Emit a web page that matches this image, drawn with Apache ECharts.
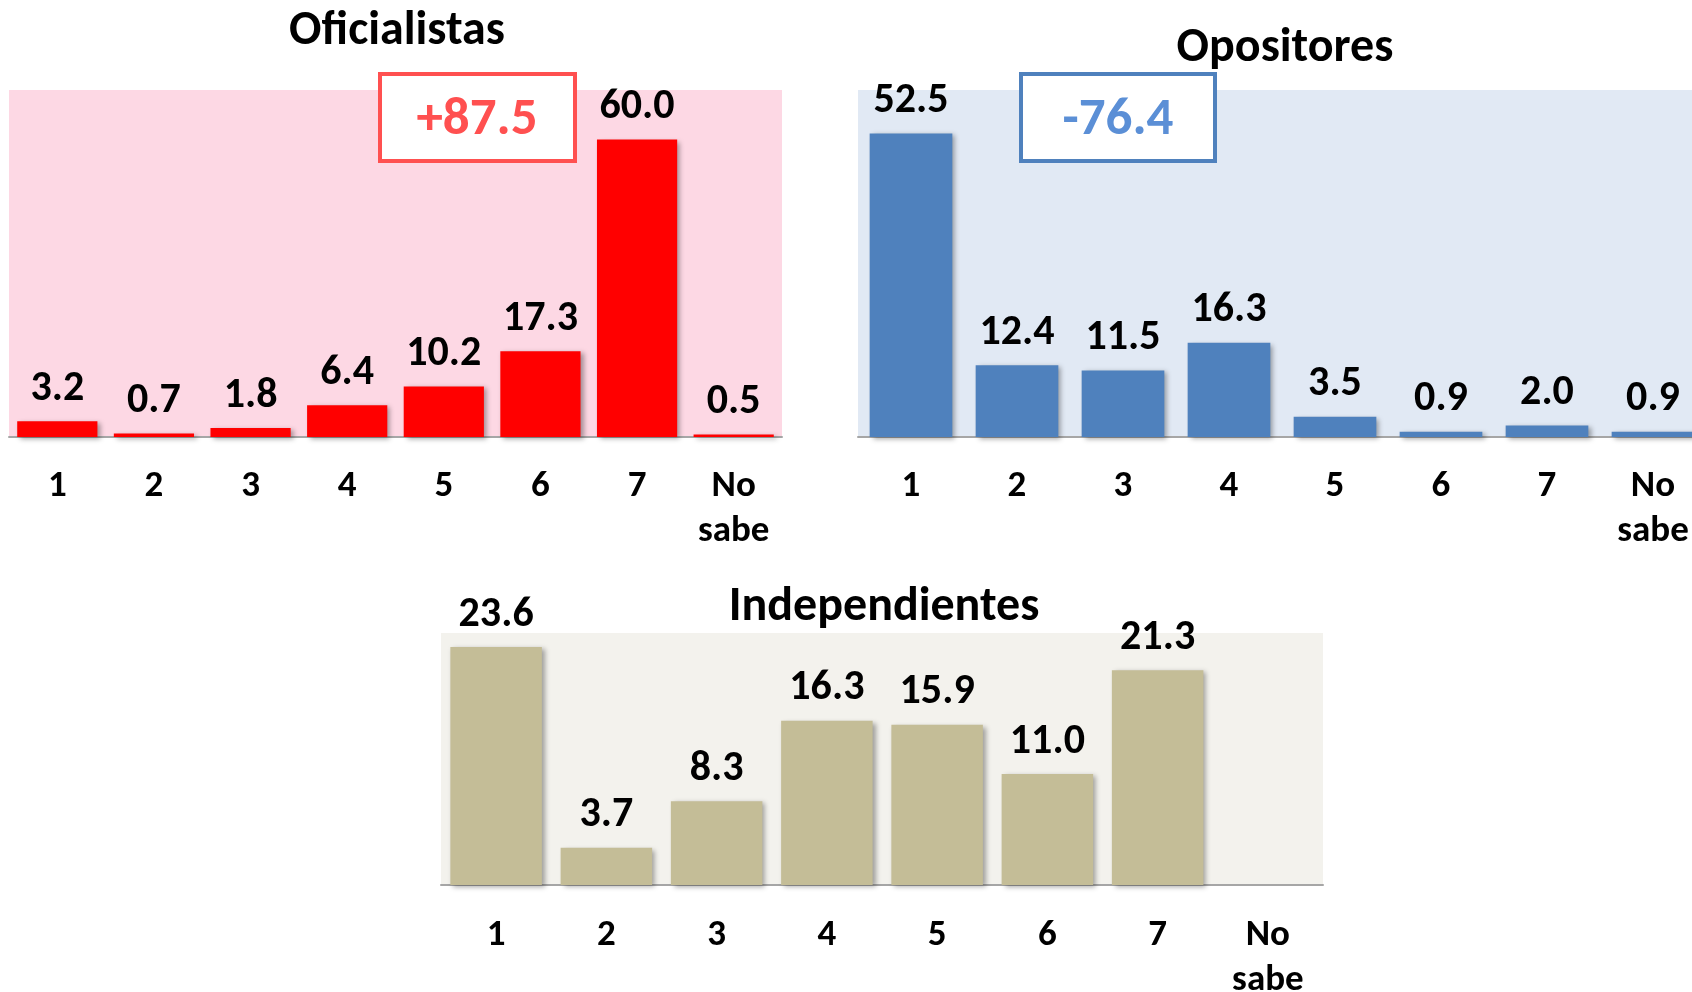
<!DOCTYPE html>
<html>
<head>
<meta charset="utf-8">
<script src="https://cdn.jsdelivr.net/npm/echarts@6/dist/echarts.min.js"></script>
<style>
  html, body { margin: 0; padding: 0; background: #fff; }
  #chart { width: 1692px; height: 992px; }
</style>
</head>
<body>
<div id="chart"></div>
<script>
// categories shared by the three panels
const categories = ["1", "2", "3", "4", "5", "6", "7", "No\nsabe"];

// values per group
const oficialistas = [3.2, 0.7, 1.8, 6.4, 10.2, 17.3, 60.0, 0.5];
const opositores = [52.5, 12.4, 11.5, 16.3, 3.5, 0.9, 2.0, 0.9];
const independientes = [23.6, 3.7, 8.3, 16.3, 15.9, 11.0, 21.3, null];

const panelTitles = ["Oficialistas", "Opositores", "Independientes"];
const balanceLabels = ["+87.5", "-76.4"];

const FONT = "Carlito, Lato, 'Open Sans', sans-serif";

const grids = [
  { left: 9, top: 90, width: 773, height: 347, bg: "#fdd8e4", gap: "17%" },
  { left: 858, top: 90, width: 848, height: 347, bg: "#e1e9f4", gap: "22%" },
  { left: 441, top: 633, width: 882, height: 252, bg: "#f3f2ed", gap: "17%" },
];
const yMax = [70, 60, 25];
const barColors = ["#ff0000", "#4f81bd", "#c4bd97"];
const seriesData = [oficialistas, opositores, independientes];

const chart = echarts.init(document.getElementById("chart"));

const option = {
  animation: false,
  backgroundColor: "#fff",
  textStyle: { fontFamily: FONT },
  title: [
    { text: panelTitles[0], left: 392, top: 3, textAlign: "center" },
    { text: panelTitles[1], left: 1280, top: 20, textAlign: "center" },
    { text: panelTitles[2], left: 879, top: 579, textAlign: "center" },
  ].map(t => Object.assign(t, {
    textStyle: { fontFamily: FONT, fontSize: 48, fontWeight: "bold", color: "#000" },
  })),
  grid: grids.map(g => ({
    left: g.left, top: g.top, width: g.width, height: g.height,
    outerBoundsMode: "none",
    containLabel: false,
    show: true, backgroundColor: g.bg, borderWidth: 0,
  })),
  xAxis: grids.map((g, i) => ({
    type: "category",
    gridIndex: i,
    data: categories,
    axisLine: { lineStyle: { color: "#a6a6a6", width: 2 } },
    axisTick: { show: false },
    axisLabel: {
      interval: 0,
      margin: i === 2 ? 28 : 27,
      fontFamily: FONT,
      fontSize: 37,
      fontWeight: "bold",
      color: "#000",
      lineHeight: 45,
      verticalAlign: "top",
    },
  })),
  yAxis: grids.map((g, i) => ({
    type: "value",
    gridIndex: i,
    min: 0,
    max: yMax[i],
    show: false,
    splitLine: { show: false },
  })),
  series: seriesData.map((d, i) => ({
    type: "bar",
    xAxisIndex: i,
    yAxisIndex: i,
    data: d,
    barCategoryGap: grids[i].gap,
    itemStyle: {
      color: barColors[i],
      shadowColor: "rgba(0,0,0,0.35)",
      shadowBlur: 5,
      shadowOffsetX: 3,
      shadowOffsetY: 2,
    },
    label: {
      show: true,
      position: "top",
      distance: 11,
      fontFamily: FONT,
      fontSize: 42,
      fontWeight: "bold",
      color: "#000",
      formatter: p => p.value == null ? "" : Number(p.value).toFixed(1),
    },
  })),
  graphic: [
    {
      type: "group",
      left: 378, top: 72,
      children: [
        { type: "rect", shape: { x: 0, y: 0, width: 195, height: 87 },
          style: { fill: "#fff", stroke: "#ff5050", lineWidth: 4 } },
        { type: "text", style: { x: 97, y: 47, text: balanceLabels[0], align: "center", verticalAlign: "middle",
          font: "bold 53px " + FONT, fill: "#ff5050" } },
      ],
    },
    {
      type: "group",
      left: 1019, top: 72,
      children: [
        { type: "rect", shape: { x: 0, y: 0, width: 194, height: 87 },
          style: { fill: "#fff", stroke: "#4f81bd", lineWidth: 4 } },
        { type: "text", style: { x: 97, y: 47, text: balanceLabels[1], align: "center", verticalAlign: "middle",
          font: "bold 53px " + FONT, fill: "#5b8fd6" } },
      ],
    },
  ],
};

chart.setOption(option);
</script>
</body>
</html>
